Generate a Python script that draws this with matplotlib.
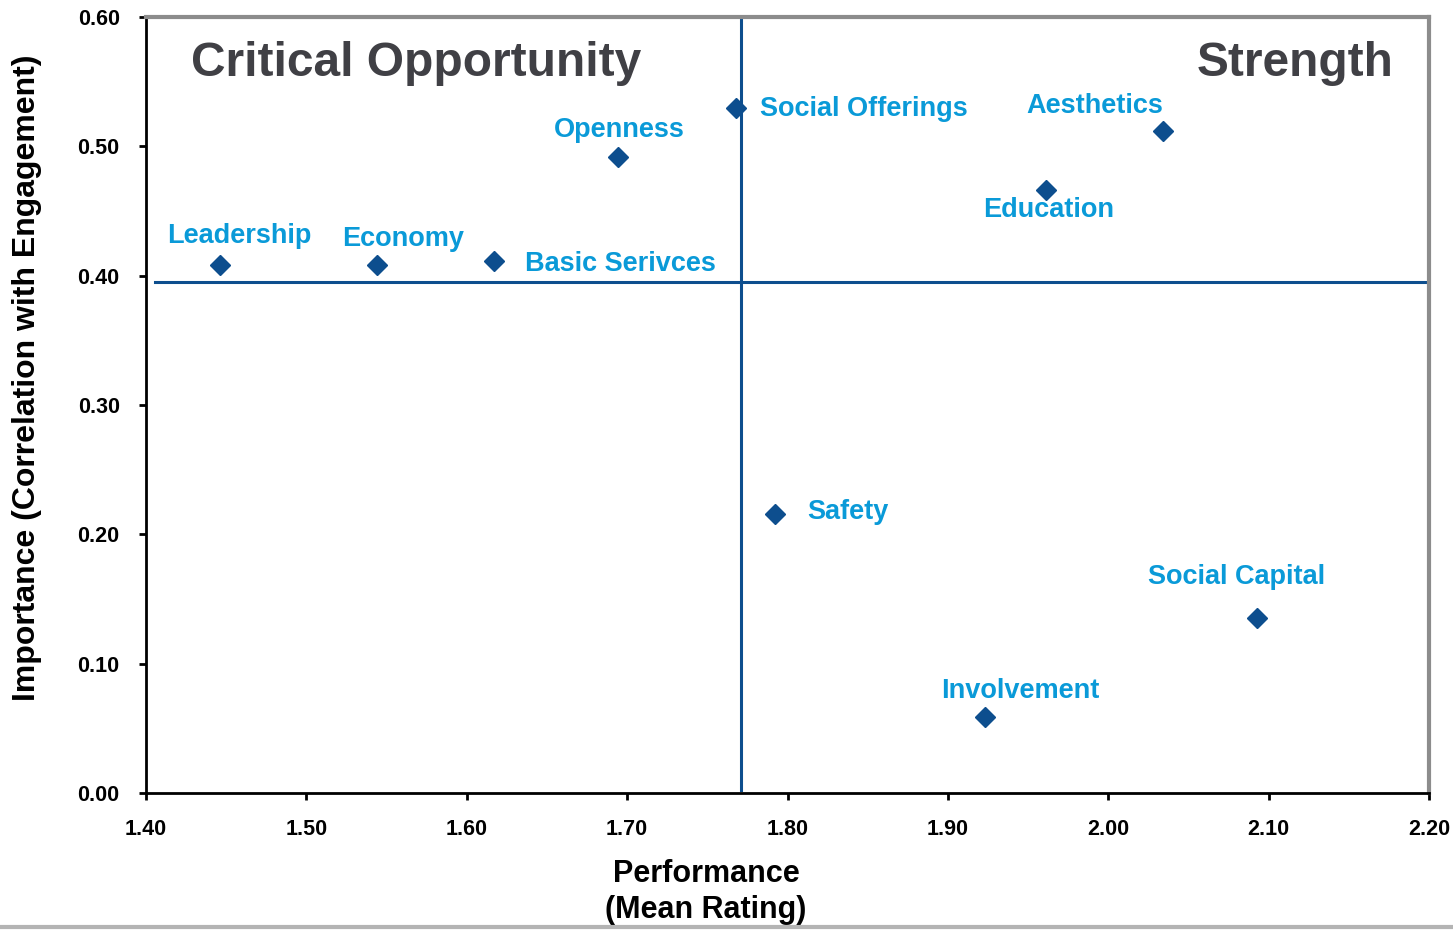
import matplotlib
matplotlib.use('Agg')
import matplotlib.pyplot as plt
from matplotlib.lines import Line2D

# data
names = ['Leadership', 'Economy', 'Basic Serivces', 'Openness', 'Social Offerings',
         'Aesthetics', 'Education', 'Safety', 'Social Capital', 'Involvement']
performance = [1.446, 1.544, 1.617, 1.694, 1.768, 2.034, 1.961, 1.792, 2.093, 1.923]
importance = [0.408, 0.408, 0.411, 0.492, 0.530, 0.512, 0.466, 0.216, 0.135, 0.059]

# where each label sits (data coords, left edge / vertical centre)
label_x = [1.413, 1.522, 1.636, 1.654, 1.783, 1.949, 1.922, 1.812, 2.025, 1.896]
label_y = [0.431, 0.428, 0.409, 0.513, 0.529, 0.531, 0.451, 0.217, 0.167, 0.079]

perf_mean = 1.771
imp_mean = 0.395

x_ticks = [1.40, 1.50, 1.60, 1.70, 1.80, 1.90, 2.00, 2.10, 2.20]
y_ticks = [0.00, 0.10, 0.20, 0.30, 0.40, 0.50, 0.60]

plt.rcParams['font.family'] = ['Liberation Sans', 'DejaVu Sans']

fig = plt.figure(figsize=(14.53, 9.30), dpi=100)
ax = fig.add_axes([0.1005, 0.1473, 0.883, 0.8344])

mark_col = '#0d4e8e'
text_col = '#0a9ad8'

ax.plot(performance, importance, 'D', markersize=10, color=mark_col, lw=0, zorder=3)
for n, tx, ty in zip(names, label_x, label_y):
    ax.text(tx, ty, n, color=text_col, fontsize=19.5, fontweight='bold',
            ha='left', va='center')

# quadrant divider lines
ax.axhline(imp_mean, xmin=0.007, xmax=1.0, color=mark_col, lw=2.2, zorder=2)
ax.axvline(perf_mean, ymin=0.004, ymax=1.0, color=mark_col, lw=2.2, zorder=2)

ax.text(0.035, 0.94, 'Critical Opportunity', transform=ax.transAxes, fontsize=34.5,
        fontweight='bold', color='#404045', ha='left', va='center')
ax.text(0.972, 0.94, 'Strength', transform=ax.transAxes, fontsize=34.5,
        fontweight='bold', color='#404045', ha='right', va='center')

ax.set_xlim(1.40, 2.20)
ax.set_ylim(0.0, 0.60)
ax.set_xticks(x_ticks)
ax.set_yticks(y_ticks)
ax.set_xticklabels(['%.2f' % v for v in x_ticks], fontsize=15.5, fontweight='bold')
ax.set_yticklabels(['%.2f' % v for v in y_ticks], fontsize=15.5, fontweight='bold')
ax.tick_params(direction='out', length=5, width=2, pad=14)

for s in ['left', 'bottom']:
    ax.spines[s].set_color('black')
    ax.spines[s].set_linewidth(2)
for s in ['top', 'right']:
    ax.spines[s].set_color('#8c8c8c')
    ax.spines[s].set_linewidth(3)

ax.set_xlabel('Performance\n(Mean Rating)', fontsize=22, fontweight='bold',
              linespacing=1.28)
ax.xaxis.set_label_coords(0.4365, -0.085)
ax.set_ylabel('Importance (Correlation with Engagement)', fontsize=23, fontweight='bold')
ax.yaxis.set_label_coords(-0.081, 0.535)

# grey rule across the bottom of the slide
fig.add_artist(Line2D([0, 1], [0.003, 0.003], transform=fig.transFigure,
                      color='#b4b4b4', lw=3))

fig.savefig('out.png', dpi=100, facecolor='white')
